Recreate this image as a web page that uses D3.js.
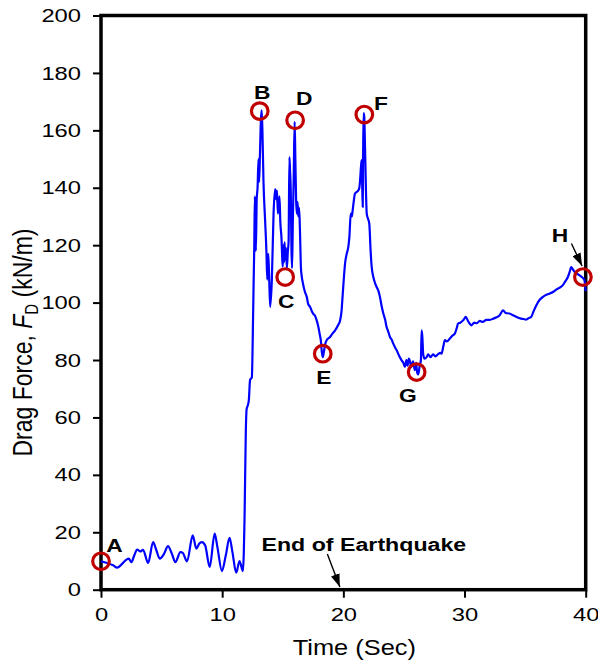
<!DOCTYPE html>
<html>
<head>
<meta charset="utf-8">
<script src="https://cdn.jsdelivr.net/npm/d3@7"></script>
<style>
  html, body { margin: 0; padding: 0; background: #fff; }
  svg { display: block; font-family: Arial, "Liberation Sans", sans-serif; }
</style>
</head>
<body>
<svg id="chart" width="598" height="662"></svg>
<script>
// Drag force time history (kN/m) against time (s)
const timeSec = [
  0, 0.5, 1.0, 1.33, 1.7, 2.02, 2.29, 2.51, 2.75, 2.98, 3.25, 3.47, 3.89, 4.3, 4.55, 4.85, 5.2, 5.53,
  5.85, 6.14, 6.55, 6.75, 7.1, 7.57, 7.87, 8.1, 8.33, 8.6, 8.97, 9.38, 9.6, 9.98, 10.3, 10.61, 10.85,
  11.16, 11.43, 11.71, 11.85, 11.95, 12.02, 12.1, 12.2, 12.3, 12.45,
  12.55, 12.6, 12.65, 12.7, 12.78, 12.85, 12.92, 13.0, 13.05, 13.12, 13.2, 13.26, 13.32, 13.41, 13.55,
  13.65, 13.72, 13.8, 13.87, 13.96, 14.1, 14.24, 14.37, 14.45, 14.52, 14.6, 14.73, 14.8, 14.9, 14.95,
  15.0, 15.05, 15.1, 15.15, 15.2, 15.27, 15.34, 15.42, 15.48, 15.55, 15.6, 15.66, 15.72, 15.77, 15.83,
  15.9, 15.98, 16.04, 16.1, 16.16, 16.22, 16.28, 16.35, 16.42, 16.5, 16.57, 16.65, 16.75, 16.85, 16.98,
  17.1, 17.26, 17.4, 17.53, 17.65, 17.8, 17.94, 18.05, 18.14, 18.22, 18.3, 18.4, 18.5, 18.63, 18.9,
  19.1, 19.32, 19.55, 19.73, 19.85, 19.95, 20.05, 20.14, 20.28, 20.41, 20.5, 20.61, 20.7, 20.77, 20.85,
  20.96, 21.1, 21.24, 21.32, 21.38, 21.45, 21.51, 21.56, 21.6, 21.63, 21.67, 21.72, 21.79, 21.86, 21.93,
  22.05, 22.14, 22.25, 22.34, 22.47, 22.6, 22.75, 22.9, 23.02, 23.15, 23.3, 23.45, 23.57, 23.7, 23.85,
  24.0, 24.12, 24.25, 24.4, 24.6, 24.81, 24.95, 25.08, 25.2, 25.3, 25.4, 25.5, 25.6, 25.75, 25.9,
  26.0, 26.1, 26.18, 26.3, 26.4, 26.46, 26.52, 26.59, 26.7, 26.87, 27.0, 27.2, 27.4, 27.6, 27.8,
  28.0, 28.1, 28.24, 28.38, 28.55, 28.79, 29.0, 29.2, 29.35, 29.47, 29.65, 29.88, 30.0, 30.1, 30.3,
  30.58, 30.8, 31.0, 31.26, 31.5, 31.8, 32.1, 32.36, 32.6, 32.9, 33.18, 33.4, 33.7, 34.0, 34.3,
  34.6, 34.85, 35.1, 35.3, 35.5, 35.7, 35.93, 36.2, 36.47, 36.8, 37.05, 37.3, 37.6, 37.85, 38.1,
  38.3, 38.53, 38.7, 38.8, 38.95, 39.08, 39.3, 39.5, 39.7, 39.9, 40.0
];

const dragForce = [
  9.9, 9.3, 8.5, 7.7, 8.8, 10.2, 10.8, 9.6, 12.0, 14.0, 13.3, 13.9, 9.3, 16.6, 14.0, 10.8, 12.5, 15.2,
  12.5, 9.6, 13.1, 12.8, 9.9, 18.9, 14.3, 16.0, 16.6, 15.4, 7.9, 19.5, 15.0, 6.5, 12.0, 18.1, 13.0,
  5.9, 10.0, 6.5, 26.0, 55.0, 63.0, 64.0, 66.0, 73.0, 74.0,
  95.0, 108.0, 120.0, 137.0, 118.0, 136.0, 140.0, 150.0, 142.0, 152.0, 164.0, 167.0, 160.0, 142.0, 128.0,
  118.0, 108.0, 117.0, 110.0, 98.5, 108.0, 131.0, 139.5, 136.0, 139.0, 131.0, 137.0, 128.0, 122.0, 116.0,
  112.5, 120.0, 114.0, 121.0, 115.0, 119.0, 112.0, 118.0, 121.0, 150.7, 146.0, 139.0, 118.0, 112.0, 128.0,
  143.0, 163.0, 150.0, 136.0, 131.0, 135.0, 130.0, 133.0, 125.0, 112.0, 109.0, 107.0, 105.0, 103.5, 102.0,
  99.5, 98.5, 97.0, 96.0, 95.5, 93.8, 91.5, 89.0, 86.9, 83.0, 81.0, 83.0, 85.5, 87.0, 88.0,
  89.2, 90.3, 92.0, 93.8, 97.0, 103.0, 109.0, 113.6, 117.0, 119.4, 123.0, 131.0, 130.0, 132.2, 135.0,
  138.0, 138.5, 139.1, 140.0, 142.6, 147.0, 149.6, 140.0, 133.3, 150.0, 166.0, 165.0, 154.0, 140.0, 131.0,
  129.0, 127.5, 118.0, 112.4, 109.0, 107.0, 105.4, 104.0, 102.0, 99.0, 96.2, 94.0, 91.5, 90.0, 88.0,
  87.0, 85.7, 84.5, 83.4, 81.5, 79.9, 79.0, 77.6, 80.0, 78.0, 80.5, 79.5, 77.5, 79.5, 76.5,
  79.0, 75.5, 75.0, 78.0, 80.0, 90.3, 88.0, 82.0, 80.5, 81.0, 82.0, 81.0, 82.0, 81.3, 82.0,
  82.5, 82.2, 84.5, 86.9, 86.5, 87.5, 88.5, 89.2, 91.0, 92.7, 93.0, 93.8, 94.5, 95.0, 93.5,
  92.1, 93.0, 92.8, 93.6, 93.3, 94.0, 94.0, 94.4, 94.8, 95.6, 97.3, 96.4, 96.2, 95.6, 95.0,
  94.5, 94.3, 94.1, 94.6, 95.0, 97.0, 99.1, 101.0, 102.0, 102.8, 103.2, 103.7, 104.6, 105.2, 106.0,
  107.3, 108.9, 111.0, 112.4, 111.5, 110.7, 110.0, 109.5, 108.8, 107.8, 104.0
];

// Marked states along the record
const pointLabels = ["A", "B", "C", "D", "E", "F", "G", "H"];
const pointTimes  = [0, 13.1, 15.2, 16.02, 18.3, 21.73, 26.05, 39.77];
const pointForces = [9.9, 166.7, 108.9, 163.5, 82.2, 165.5, 75.8, 108.9];

const xTicks = [0, 10, 20, 30, 40];
const yTicks = [0, 20, 40, 60, 80, 100, 120, 140, 160, 180, 200];

const quakeEndTime = 20;
const quakeEndText = "End of Earthquake";

// ---- layout & styling ----
const frame = { left: 101, right: 585.7, top: 15.5, bottom: 589.7 };
const stretch = 1.25;   // horizontal glyph stretch used for all text
// label placement relative to each marker (px)
const labelOffset = {
  A: [13.5, -16], B: [2.5, -19.5], C: [1, 23.7], D: [9, -22.5],
  E: [1, 23], F: [16.7, -12], G: [-8.7, 22.5], H: [-23, -42]
};

const svg = d3.select("#chart");

const x = d3.scaleLinear().domain([0, 40]).range([frame.left, frame.right]);
const y = d3.scaleLinear().domain([0, 200]).range([frame.bottom, frame.top]);

function stretchedText(parent, px, py, str, opts) {
  const o = Object.assign({ size: 19, weight: "normal", anchor: "middle", sx: stretch, rotate: 0 }, opts || {});
  const g = parent.append("g")
    .attr("transform", o.rotate
      ? `translate(${px},${py}) rotate(${o.rotate}) scale(1,${o.sx})`
      : `translate(${px},${py}) scale(${o.sx},1)`);
  const t = g.append("text")
    .attr("text-anchor", o.anchor)
    .attr("font-size", o.size)
    .attr("font-weight", o.weight)
    .attr("fill", "#000");
  if (typeof str === "string") t.text(str);
  else str(t);
  return t;
}

// Axes
const xAxis = d3.axisBottom(x).tickValues(xTicks).tickSize(8).tickPadding(9).tickFormat(d3.format("d"));
const yAxis = d3.axisLeft(y).tickValues(yTicks).tickSize(8).tickPadding(12).tickFormat(d3.format("d"));

const gx = svg.append("g").attr("transform", `translate(0,${frame.bottom})`).call(xAxis);
const gy = svg.append("g").attr("transform", `translate(${frame.left},0)`).call(yAxis);

[gx, gy].forEach(g => {
  g.select(".domain").remove();
  g.selectAll(".tick line").attr("stroke", "#000").attr("stroke-width", 2);
  g.selectAll(".tick text")
    .attr("font-size", 19)
    .attr("font-family", "Arial, 'Liberation Sans', sans-serif")
    .attr("fill", "#000");
});
gx.selectAll(".tick text").attr("transform", `scale(${stretch},1)`).attr("dy", "0.75em");
gy.selectAll(".tick text").each(function () {
  const tx = +d3.select(this).attr("x");
  d3.select(this).attr("transform", `translate(${tx},0) scale(${stretch},1) translate(${-tx},0)`);
});

// Plot frame
svg.append("rect")
  .attr("x", frame.left).attr("y", frame.top)
  .attr("width", frame.right - frame.left).attr("height", frame.bottom - frame.top)
  .attr("fill", "none").attr("stroke", "#000").attr("stroke-width", 3.5);

// Force history line
const series = timeSec.map((t, i) => [t, dragForce[i]]);
const line = d3.line().x(d => x(d[0])).y(d => y(d[1])).curve(d3.curveMonotoneX);
svg.append("path")
  .datum(series)
  .attr("d", line)
  .attr("fill", "none")
  .attr("stroke", "#0000FF")
  .attr("stroke-width", 2.2)
  .attr("stroke-linejoin", "round");

// Arrowhead marker
svg.append("defs").append("marker")
  .attr("id", "arrow")
  .attr("viewBox", "0 0 13 9")
  .attr("refX", 13).attr("refY", 4.5)
  .attr("markerWidth", 13).attr("markerHeight", 9)
  .attr("markerUnits", "userSpaceOnUse")
  .attr("orient", "auto")
  .append("path").attr("d", "M0,0 L13,4.5 L0,9 Z").attr("fill", "#000");

// Point markers and labels
pointLabels.forEach((lab, i) => {
  const cx = x(pointTimes[i]), cy = y(pointForces[i]);
  svg.append("circle")
    .attr("cx", cx).attr("cy", cy).attr("r", 8.3)
    .attr("fill", "none").attr("stroke", "#C00000").attr("stroke-width", 3.2);
  const [dx, dy] = labelOffset[lab];
  stretchedText(svg, cx + dx, cy + dy + 7, lab, { size: 19, weight: "bold", sx: 1.2 });
});

// Pointer to H
const hx = x(pointTimes[7]), hy = y(pointForces[7]);
svg.append("line")
  .attr("x1", hx - 11.5).attr("y1", hy - 33.5)
  .attr("x2", hx - 0.8).attr("y2", hy - 11.0)
  .attr("stroke", "#000").attr("stroke-width", 1.4)
  .attr("marker-end", "url(#arrow)");

// End of earthquake note
stretchedText(svg, 261.5, 550.7, quakeEndText, { size: 19, weight: "bold", anchor: "start", sx: 1.22 });
svg.append("line")
  .attr("x1", x(quakeEndTime) - 16).attr("y1", 554)
  .attr("x2", x(quakeEndTime) - 3.5).attr("y2", 587)
  .attr("stroke", "#000").attr("stroke-width", 1.4)
  .attr("marker-end", "url(#arrow)");

// Axis titles
stretchedText(svg, (frame.left + frame.right) / 2 + 11, 655, "Time (Sec)", { size: 22.5, sx: 1.13 });
stretchedText(svg, 31.5, 342.5, t => {
  t.append("tspan").text("Drag Force, ");
  t.append("tspan").attr("font-style", "italic").text("F");
  t.append("tspan").attr("font-size", 15).attr("dy", 5).text("D");
  t.append("tspan").attr("dy", -5).text(" (kN/m)");
}, { size: 23, rotate: -90, sx: 1.2 });
</script>
</body>
</html>
